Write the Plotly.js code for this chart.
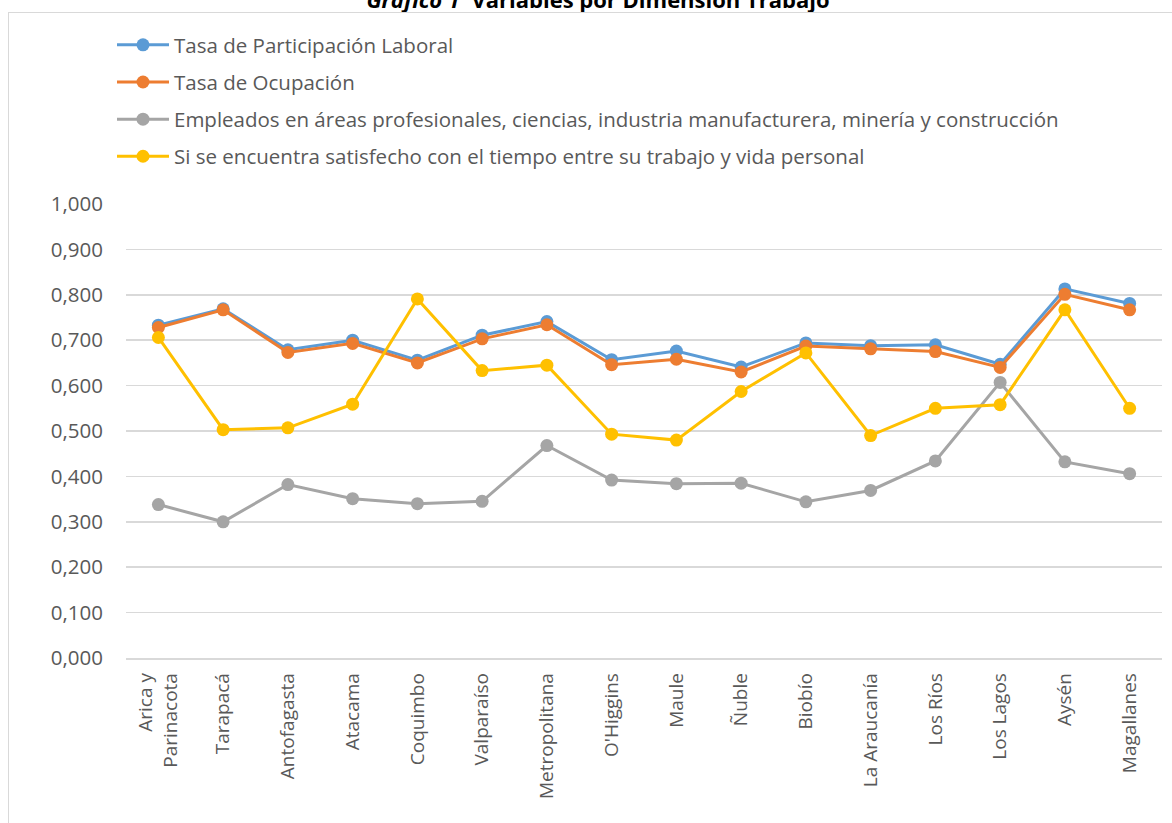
<!DOCTYPE html>
<html>
<head>
<meta charset="utf-8">
<script src="https://cdn.plot.ly/plotly-3.0.1.min.js"></script>
<style>
  html, body { margin: 0; padding: 0; background: #fff; }
  #wrap { position: relative; width: 1172px; height: 823px; overflow: hidden; }
  #chart { width: 1172px; height: 823px; }
  #frame { position: absolute; left: 8px; top: 12px; width: 1200px; height: 900px;
           border-left: 1.5px solid #d9d9d9; border-top: 1.5px solid #d9d9d9; pointer-events: none; }
</style>
</head>
<body>
<div id="wrap">
  <div id="chart"></div>
  <div id="frame"></div>
</div>
<script>
const regions = ["Arica y<br>Parinacota", "Tarapacá", "Antofagasta", "Atacama", "Coquimbo", "Valparaíso",
  "Metropolitana", "O'Higgins", "Maule", "Ñuble", "Biobío", "La Araucanía", "Los Ríos", "Los Lagos",
  "Aysén", "Magallanes"];

const seriesNames = [
  "Tasa de Participación Laboral",
  "Tasa de Ocupación",
  "Empleados en áreas profesionales, ciencias, industria manufacturera, minería y construcción",
  "Si se encuentra satisfecho con el tiempo entre su trabajo y vida personal"
];

const participacion = [0.733, 0.769, 0.679, 0.700, 0.656, 0.711, 0.741, 0.657, 0.676, 0.641, 0.694, 0.688, 0.690, 0.647, 0.813, 0.781];
const ocupacion     = [0.728, 0.767, 0.673, 0.693, 0.650, 0.703, 0.734, 0.646, 0.658, 0.630, 0.687, 0.681, 0.675, 0.640, 0.801, 0.767];
const empleados     = [0.338, 0.300, 0.382, 0.351, 0.340, 0.345, 0.468, 0.392, 0.384, 0.385, 0.344, 0.369, 0.434, 0.607, 0.432, 0.406];
const satisfecho    = [0.706, 0.503, 0.507, 0.559, 0.791, 0.633, 0.645, 0.493, 0.480, 0.587, 0.672, 0.490, 0.550, 0.558, 0.767, 0.550];

const colors = ["#5b9bd5", "#ed7d31", "#a5a5a5", "#ffc000"];
const values = [participacion, ocupacion, empleados, satisfecho];

const FONT = "'Open Sans', sans-serif";
const TXT = "#595959";

const traces = values.map((v, i) => ({
  type: "scatter",
  mode: "lines+markers",
  x: regions,
  y: v,
  name: seriesNames[i],
  legendgroup: "g" + i,
  line: { color: colors[i], width: 3 },
  marker: { color: colors[i], size: 13 },
}));

const layout = {
  width: 1172,
  height: 823,
  margin: { l: 126, r: 10, t: 204, b: 165 },
  paper_bgcolor: "#ffffff",
  plot_bgcolor: "#ffffff",
  separators: ",.",
  font: { family: FONT, color: TXT, size: 20 },
  title: {
    text: "<b><i>Gráfico 1</i>  Variables por Dimensión Trabajo</b>",
    font: { family: FONT, size: 22, color: "#000000" },
    xref: "paper",
    x: (598 - 126) / 1036,
    xanchor: "center",
    yref: "container",
    y: 1,
    yanchor: "middle",
  },
  showlegend: true,
  legend: {
    orientation: "v",
    x: (112 - 126) / 1036,
    xanchor: "left",
    y: 1 + (204 - 25) / 454,
    yanchor: "top",
    font: { family: FONT, size: 20.5, color: TXT },
    tracegroupgap: 7.5,
    itemwidth: 52,
    bgcolor: "rgba(0,0,0,0)",
  },
  xaxis: {
    type: "category",
    tickangle: -90,
    showgrid: false,
    showline: true,
    linecolor: "#d9d9d9",
    linewidth: 1.5,
    ticks: "",
    tickfont: { family: FONT, size: 19, color: TXT },
    ticklabelstandoff: 6,
    range: [-0.5, 15.5],
    fixedrange: true,
  },
  yaxis: {
    range: [0, 1],
    dtick: 0.1,
    tick0: 0,
    tickformat: ".3f",
    showgrid: true,
    gridcolor: "#d9d9d9",
    gridwidth: 1.5,
    zeroline: false,
    showline: false,
    ticks: "",
    tickfont: { family: FONT, size: 20.5, color: TXT },
    ticklabelstandoff: 22,
    fixedrange: true,
  },
};

Plotly.newPlot("chart", traces, layout, { displayModeBar: false, staticPlot: true });
</script>
</body>
</html>
